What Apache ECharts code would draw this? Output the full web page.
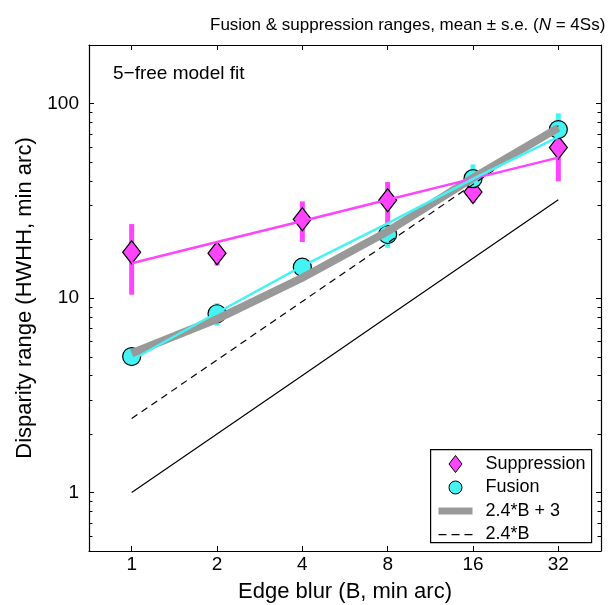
<!DOCTYPE html>
<html><head><meta charset="utf-8">
<script src="https://cdn.jsdelivr.net/npm/echarts@6/dist/echarts.min.js"></script>
<style>html,body{margin:0;padding:0;background:#fff}#c{width:611px;height:605px}</style>
</head><body><div id="c"></div>
<script>
// ---- data ----
const blur = [1, 2, 4, 8, 16, 32];
const xTickLabels = ['1', '2', '4', '8', '16', '32'];
const yTickLabels = ['1', '10', '100'];
const yMinorTicks = [0.6, 0.7, 0.8, 0.9, 2, 3, 4, 5, 6, 7, 8, 9, 20, 30, 40, 50, 60, 70, 80, 90];

const suppressionMean = [17.2, 17.0, 25.4, 31.8, 35.1, 59.4];
const suppressionSE   = [6.8, 2.3, 6.0, 7.7, 4.2, 19.6];
const suppressionFit  = [15.1, 19.4, 24.9, 32.0, 41.1, 52.7];

const fusionMean = [5.0, 8.3, 14.4, 21.2, 41.1, 73.5];
const fusionSE   = [0.4, 1.1, 1.5, 3.1, 7.5, 15.5];
const fusionFit  = [4.8, 8.4, 14.6, 24.2, 41.0, 67.3];

const linearPlus3 = [5.2, 7.8, 12.7, 22.0, 41.5, 75.0];   // "2.4*B + 3"
const linearOnly  = [2.4, 4.8, 9.6, 19.2, 38.4, 76.8];    // "2.4*B"
const identity    = [1, 2, 4, 8, 16, 32];

// ---- styling ----
const FONT = '"Liberation Sans", Arial, Helvetica, sans-serif';
const MAG = '#ff44ff';
const CYA = '#44f4f4';
const GRAY = '#999999';
const MINOR_LEN = 3.5;

const pairs = (ys) => blur.map((b, i) => [b, ys[i]]);
const errData = (m, s) => blur.map((b, i) => [b, m[i] - s[i], m[i] + s[i]]);

function errRenderer(color) {
  return function (params, api) {
    const p1 = api.coord([api.value(0), api.value(1)]);
    const p2 = api.coord([api.value(0), api.value(2)]);
    return { type: 'line', shape: { x1: p1[0], y1: p1[1], x2: p2[0], y2: p2[1] },
             style: { stroke: color, lineWidth: 5 } };
  };
}

function minorRenderer(params, api) {
  const cs = params.coordSys;
  const y = Math.round(api.coord([1, api.value(1)])[1]) + 0.5;
  return { type: 'group', children: [
    { type: 'line', shape: { x1: cs.x, y1: y, x2: cs.x + MINOR_LEN, y2: y }, style: { stroke: '#000', lineWidth: 1 } },
    { type: 'line', shape: { x1: cs.x + cs.width - MINOR_LEN, y1: y, x2: cs.x + cs.width, y2: y }, style: { stroke: '#000', lineWidth: 1 } }
  ] };
}

const axisLine = { show: true, onZero: false, lineStyle: { color: '#000', width: 1.2 } };
const axisTick = { show: true, inside: true, length: 5, lineStyle: { color: '#000', width: 1 } };

function xLabelFmt(v) { const s = String(Math.round(v)); return xTickLabels.includes(s) ? s : ''; }
function yLabelFmt(v) { const s = String(Math.round(v)); return yTickLabels.includes(s) ? s : ''; }

const baseX = {
  type: 'log', logBase: 2, min: Math.SQRT1_2, max: 32 * Math.SQRT2,
  axisLine, axisTick, splitLine: { show: false }, minorTick: { show: false }
};
const baseY = {
  type: 'log', logBase: 10, min: 0.5, max: 200,
  axisLine, axisTick, splitLine: { show: false }, minorTick: { show: false }
};

const iconBox = 'M0,0M42,17';
const legendIcons = {
  diamond: 'path://' + iconBox + 'M17,0L23.5,8.5L17,17L10.5,8.5Z',
  circle: 'path://' + iconBox + 'M23.5,8.5A6.5,6.5,0,1,1,10.5,8.5A6.5,6.5,0,1,1,23.5,8.5Z',
  bar: 'path://' + iconBox + 'M0,5h34v7h-34Z',
  dash: 'path://' + iconBox + 'M0,8h8v1.2h-8ZM13,8h8v1.2h-8ZM26,8h8v1.2h-8Z'
};

const option = {
  animation: false,
  backgroundColor: '#fff',
  textStyle: { fontFamily: FONT, color: '#000' },
  title: {
    text: '{a|Fusion & suppression ranges, mean ± s.e. (}{i|N}{a| = 4Ss)}',
    left: 205, top: 12,
    textStyle: { fontWeight: 'normal', rich: {
      a: { fontSize: 17, fontFamily: FONT, fontWeight: 'normal', color: '#000' },
      i: { fontSize: 17, fontFamily: FONT, fontWeight: 'normal', fontStyle: 'italic', color: '#000' }
    } }
  },
  grid: { left: 89, top: 45, right: 10, bottom: 54, containLabel: false, outerBoundsMode: 'none' },
  xAxis: [
    Object.assign({}, baseX, {
      position: 'bottom',
      axisLabel: { show: true, margin: 4, fontSize: 19, color: '#000', fontFamily: FONT,
                   showMinLabel: false, showMaxLabel: false, formatter: xLabelFmt },
      name: 'Edge blur (B, min arc)', nameLocation: 'middle', nameGap: 30,
      nameTextStyle: { fontSize: 22, color: '#000', fontFamily: FONT }
    }),
    Object.assign({}, baseX, { position: 'top', axisLabel: { show: false } })
  ],
  yAxis: [
    Object.assign({}, baseY, {
      position: 'left',
      axisLabel: { show: true, margin: 10, fontSize: 19, color: '#000', fontFamily: FONT,
                   showMinLabel: false, showMaxLabel: false, formatter: yLabelFmt },
      name: 'Disparity range (HWHH, min arc)', nameLocation: 'middle', nameGap: 52,
      nameTextStyle: { fontSize: 22, color: '#000', fontFamily: FONT }
    }),
    Object.assign({}, baseY, { position: 'right', axisLabel: { show: false } })
  ],
  legend: {
    orient: 'vertical', left: 430, top: 449,
    selectedMode: false,
    backgroundColor: 'transparent', borderWidth: 0,
    padding: [6, 6, 3, 8], itemGap: 5.5, itemWidth: 42, itemHeight: 17,
    textStyle: { fontSize: 18, color: '#000', fontFamily: FONT },
    data: [
      { name: 'Suppression', icon: legendIcons.diamond, itemStyle: { color: MAG, borderColor: '#000', borderWidth: 1 } },
      { name: 'Fusion', icon: legendIcons.circle, itemStyle: { color: CYA, borderColor: '#000', borderWidth: 1 } },
      { name: '2.4*B + 3', icon: legendIcons.bar, itemStyle: { color: GRAY, borderWidth: 0 } },
      { name: '2.4*B', icon: legendIcons.dash, itemStyle: { color: '#000', borderWidth: 0 } }
    ]
  },
  graphic: [
    { type: 'text', left: 113, top: 64, style: { text: '5−free model fit', fontSize: 19, fontFamily: FONT, fill: '#000' } },
    { type: 'rect', left: 430, top: 449, z: 3, shape: { width: 161, height: 93 },
      style: { fill: '#fff', stroke: '#000', lineWidth: 1.2 } }
  ],
  series: [
    { type: 'custom', name: 'minorTicks', renderItem: minorRenderer, data: yMinorTicks.map(v => [1, v]),
      encode: { x: 0, y: 1 }, silent: true, z: 5 },
    { type: 'line', name: 'B', data: pairs(identity), symbol: 'none',
      lineStyle: { color: '#000', width: 1.2 }, itemStyle: { color: '#000' } },
    { type: 'line', name: '2.4*B', data: pairs(linearOnly), symbol: 'none',
      lineStyle: { color: '#000', width: 1.2, type: [7, 5] }, itemStyle: { color: '#000' } },
    { type: 'line', name: '2.4*B + 3', data: pairs(linearPlus3), symbol: 'none',
      lineStyle: { color: GRAY, width: 8, cap: 'butt', join: 'miter' }, itemStyle: { color: GRAY } },
    { type: 'line', name: 'suppressionFit', data: pairs(suppressionFit), symbol: 'none',
      lineStyle: { color: MAG, width: 2.5 }, itemStyle: { color: MAG } },
    { type: 'line', name: 'fusionFit', data: pairs(fusionFit), symbol: 'none',
      lineStyle: { color: CYA, width: 2.5 }, itemStyle: { color: CYA } },
    { type: 'custom', name: 'suppressionErr', renderItem: errRenderer(MAG),
      data: errData(suppressionMean, suppressionSE), encode: { x: 0, y: [1, 2] } },
    { type: 'scatter', name: 'Suppression', data: pairs(suppressionMean), symbol: 'diamond', symbolSize: [18, 23],
      itemStyle: { color: MAG, borderColor: '#000', borderWidth: 1.2, opacity: 1 } },
    { type: 'custom', name: 'fusionErr', renderItem: errRenderer(CYA),
      data: errData(fusionMean, fusionSE), encode: { x: 0, y: [1, 2] } },
    { type: 'scatter', name: 'Fusion', data: pairs(fusionMean), symbol: 'circle', symbolSize: 18,
      itemStyle: { color: CYA, borderColor: '#000', borderWidth: 1.2, opacity: 1 } }
  ]
};

const chart = echarts.init(document.getElementById('c'), null, { renderer: 'canvas' });
chart.setOption(option);
</script>
</body></html>
